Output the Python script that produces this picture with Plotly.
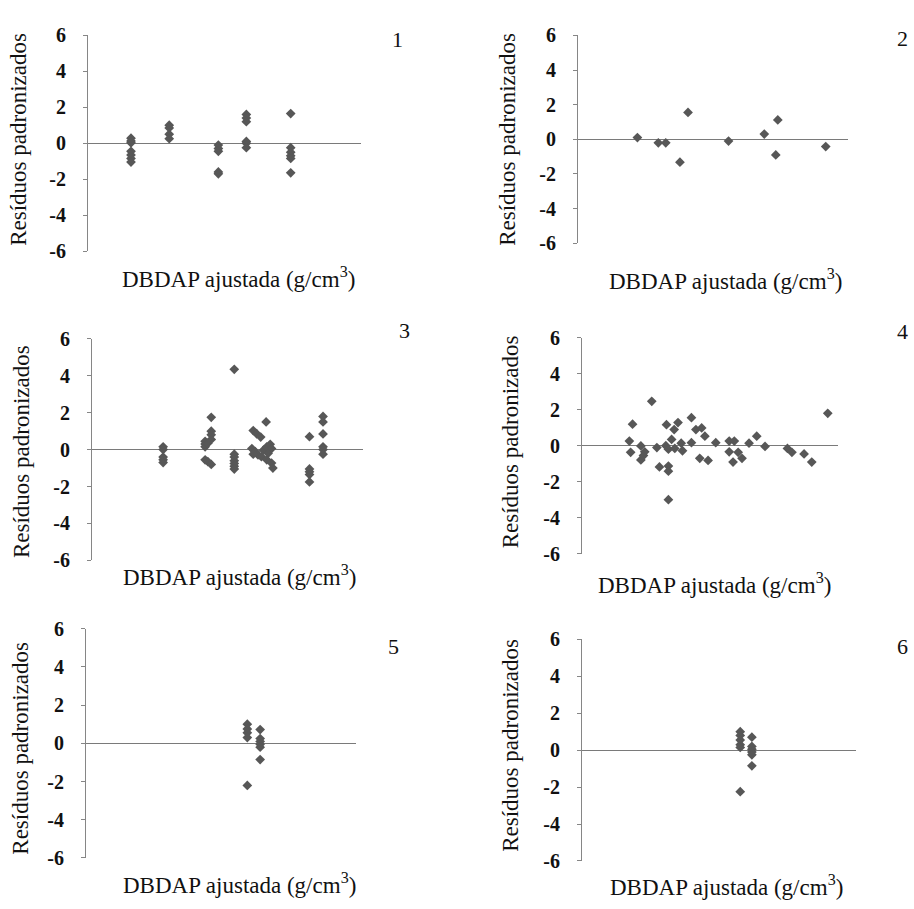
import plotly.graph_objects as go

# Standardized residuals vs. fitted DBDAP (g/cm3), one panel per model
x1 = [0.463, 0.463, 0.463, 0.463, 0.463, 0.463, 0.463,
      0.519, 0.519, 0.519, 0.519,
      0.591, 0.591, 0.591, 0.591, 0.591,
      0.632, 0.632, 0.632, 0.632, 0.632, 0.632,
      0.697, 0.697, 0.697, 0.697, 0.697, 0.697]
y1 = [0.28, 0.12, 0.02, -0.45, -0.65, -0.85, -1.05,
      1.0, 0.85, 0.5, 0.25,
      -0.1, -0.3, -0.45, -1.6, -1.7,
      1.6, 1.4, 1.2, 0.1, 0.0, -0.25,
      1.65, -0.25, -0.5, -0.7, -0.85, -1.65]

x2 = [0.488, 0.519, 0.530, 0.551, 0.563, 0.623, 0.676, 0.693, 0.696, 0.767]
y2 = [0.1, -0.2, -0.2, -1.32, 1.55, -0.1, 0.3, -0.9, 1.12, -0.42]

x3 = [0.505, 0.505, 0.505, 0.505, 0.505,
      0.567, 0.567, 0.567, 0.567,
      0.571, 0.571,
      0.576, 0.576, 0.576, 0.576, 0.576,
      0.610, 0.610, 0.610, 0.610, 0.610, 0.610, 0.610,
      0.638, 0.643, 0.649, 0.657, 0.636, 0.641, 0.645, 0.650, 0.653,
      0.658, 0.663, 0.665, 0.660, 0.658, 0.665, 0.667, 0.638,
      0.721, 0.721, 0.721, 0.721, 0.721,
      0.741, 0.741, 0.741, 0.741, 0.741, 0.741]
y3 = [0.15, 0.0, -0.4, -0.55, -0.7,
      0.45, 0.3, 0.15, -0.55,
      0.35, -0.65,
      1.75, 1.0, 0.8, 0.55, -0.8,
      4.35, -0.25, -0.4, -0.6, -0.75, -0.9, -1.05,
      1.03, 0.86, 0.68, 1.5, 0.06, -0.11, -0.29, -0.38, -0.03,
      0.15, 0.29, 0.06, -0.2, -0.55, -0.73, -1.0, -0.25,
      0.7, -1.05, -1.2, -1.35, -1.75,
      1.8, 1.5, 0.85, 0.15, 0.0, -0.25]

x4 = [0.509, 0.479, 0.474, 0.476, 0.492, 0.492, 0.496, 0.498,
      0.517, 0.521, 0.532, 0.531, 0.535, 0.535, 0.535, 0.535,
      0.540, 0.544, 0.545, 0.550, 0.555, 0.557, 0.571, 0.571,
      0.578, 0.587, 0.592, 0.584, 0.597, 0.609, 0.630, 0.638,
      0.630, 0.636, 0.644, 0.650, 0.661, 0.673, 0.686, 0.721,
      0.728, 0.747, 0.759, 0.784]
y4 = [2.47, 1.2, 0.26, -0.37, -0.01, -0.79, -0.55, -0.34,
      -0.1, -1.18, 1.17, 0.0, -0.19, -1.13, -1.42, -3.0,
      0.35, 0.9, -0.15, 1.29, 0.14, -0.28, 1.56, 0.17,
      0.9, 0.99, 0.53, -0.7, -0.82, 0.17, 0.26, 0.26,
      -0.34, -0.91, -0.37, -0.7, 0.14, 0.53, -0.04, -0.15,
      -0.37, -0.46, -0.91, 1.8]

x5 = [0.639, 0.639, 0.639, 0.639, 0.639,
      0.658, 0.658, 0.658, 0.658, 0.658, 0.658]
y5 = [1.0, 0.75, 0.55, 0.3, -2.2,
      0.72, 0.25, 0.1, -0.05, -0.2, -0.85]

x6 = [0.631, 0.631, 0.631, 0.631, 0.631, 0.631,
      0.648, 0.648, 0.648, 0.648, 0.648, 0.648]
y6 = [1.0, 0.8, 0.55, 0.3, 0.15, -2.25,
      0.7, 0.2, 0.05, -0.1, -0.25, -0.85]

panel_labels = ["1", "2", "3", "4", "5", "6"]
y_ticks = [-6, -4, -2, 0, 2, 4, 6]
y_tick_text = ["-6", "-4", "-2", "0", "2", "4", "6"]
y_title = "Resíduos padronizados"
x_title = "DBDAP ajustada (g/cm<sup>3</sup>)"

series = [(x1, y1), (x2, y2), (x3, y3), (x4, y4), (x5, y5), (x6, y6)]

W, H = 914, 909
SERIF = "'Liberation Serif', 'Times New Roman', 'DejaVu Serif', serif"
AXIS_GREY = "#868686"
MARKER = "#575757"

# pixel layout of each panel: plot box (left, right, top, bottom),
# y-title centre, x-title centre, panel number position
boxes = [
    dict(box=(88, 361, 25, 246), yt=(19, 132), xt=(238, 273), num=(397, 29)),
    dict(box=(578, 848, 25, 238), yt=(508, 132), xt=(725, 275), num=(902, 28)),
    dict(box=(92, 363, 336, 563), yt=(21, 452), xt=(239, 579), num=(404, 327)),
    dict(box=(582, 838, 335, 556), yt=(510, 442), xt=(714, 587), num=(902, 328)),
    dict(box=(86, 356, 633, 868), yt=(21, 756), xt=(239, 894), num=(393, 651)),
    dict(box=(582, 856, 644, 871), yt=(511, 753), xt=(726, 896), num=(902, 651)),
]


def px(x):
    return x / W


def py(y):
    return 1 - y / H


fig = go.Figure()
layout = dict(
    width=W, height=H, autosize=False,
    margin=dict(l=0, r=0, t=0, b=0),
    paper_bgcolor="white", plot_bgcolor="white",
    showlegend=False,
    font=dict(family=SERIF, color="#111111"),
    annotations=[],
)

for i, ((xs, ys), spec) in enumerate(zip(series, boxes), start=1):
    suffix = "" if i == 1 else str(i)
    l, r, t, b = spec["box"]
    fig.add_trace(go.Scatter(
        x=xs, y=ys, mode="markers",
        marker=dict(symbol="diamond", size=7.5, color=MARKER),
        xaxis="x" + suffix, yaxis="y" + suffix,
        hoverinfo="x+y",
    ))
    layout["xaxis" + suffix] = dict(
        domain=[px(l), px(r)], range=[0.40, 0.80],
        anchor="y" + suffix,
        showline=False, showgrid=False, zeroline=False,
        showticklabels=False, ticks="",
    )
    layout["yaxis" + suffix] = dict(
        domain=[py(b), py(t)], range=[-6, 6],
        anchor="x" + suffix,
        tickvals=y_ticks, ticktext=y_tick_text,
        showline=True, linecolor=AXIS_GREY, linewidth=1,
        ticks="outside", ticklen=4, tickcolor=AXIS_GREY, tickwidth=1,
        showgrid=False,
        zeroline=True, zerolinecolor="#7a7a7a", zerolinewidth=1.4,
        ticklabelstandoff=13,
        tickfont=dict(family=SERIF, size=20, color="#111111", weight="bold"),
    )
    ytx, yty = spec["yt"]
    layout["annotations"].append(dict(
        text=y_title, x=px(ytx), y=py(yty), xref="paper", yref="paper",
        textangle=-90, showarrow=False, xanchor="center", yanchor="middle",
        font=dict(family=SERIF, size=23, color="#111111"),
    ))
    xtx, xty = spec["xt"]
    layout["annotations"].append(dict(
        text=x_title, x=px(xtx), y=py(xty), xref="paper", yref="paper",
        showarrow=False, xanchor="center", yanchor="middle",
        font=dict(family=SERIF, size=23, color="#111111"),
    ))
    nx, ny = spec["num"]
    layout["annotations"].append(dict(
        text=panel_labels[i - 1], x=px(nx), y=py(ny), xref="paper", yref="paper",
        showarrow=False, xanchor="center", yanchor="middle",
        font=dict(family=SERIF, size=22, color="#111111"),
    ))

fig.update_layout(**layout)
fig.write_html("out.html")
